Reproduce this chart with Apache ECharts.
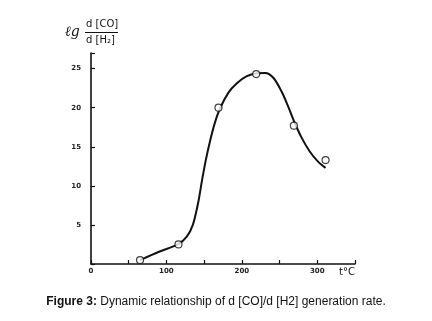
<!DOCTYPE html>
<html>
<head>
<meta charset="utf-8">
<script src="https://cdn.jsdelivr.net/npm/echarts@6/dist/echarts.min.js"></script>
<style>
html,body{margin:0;padding:0;background:#fff;}
#chart{width:432px;height:321px;}
</style>
</head>
<body>
<div id="chart"></div>
<script>
// measured points (t, lg d[CO]/d[H2])
var pointT = [65, 116, 169, 219, 269, 311];
var pointV = [0.5, 2.5, 20.0, 24.3, 17.7, 13.3];
// hand drawn curve
var curveT = [65, 91, 115, 127, 135, 142, 147, 152, 158, 164, 171, 182, 193, 206, 220, 231, 242, 253, 262, 269, 279, 290, 301, 311];
var curveV = [0.5, 1.6, 2.5, 3.5, 5.0, 7.8, 10.6, 13.2, 15.8, 18.0, 19.9, 21.9, 23.1, 24.0, 24.4, 24.45, 23.8, 22.0, 20.0, 18.3, 16.2, 14.4, 13.1, 12.3];
var xLabels = [0, 100, 200, 300];
var yLabels = [5, 10, 15, 20, 25];

var pts = [];
for (var i = 0; i < pointT.length; i++) pts.push([pointT[i], pointV[i]]);
var crv = [];
for (i = 0; i < curveT.length; i++) crv.push([curveT[i], curveV[i]]);

var myChart = echarts.init(document.getElementById('chart'));
var option = {
  animation: false,
  grid: { left: 91, right: 77, top: 53, bottom: 57 },
  xAxis: {
    type: 'value', min: 0, max: 350, interval: 50,
    name: 't°C', nameLocation: 'end', nameGap: 0,
    nameTextStyle: { color: '#111', fontSize: 10, fontFamily: 'DejaVu Sans', align: 'right', verticalAlign: 'top', padding: [3, 0, 0, 0] },
    axisLine: { lineStyle: { color: '#111', width: 1.6 } },
    axisTick: { inside: true, length: 4, lineStyle: { color: '#111', width: 1.2 } },
    axisLabel: {
      color: '#222', fontSize: 7, fontWeight: 'bold', fontFamily: 'DejaVu Sans', margin: 4,
      formatter: function (v) { return xLabels.indexOf(v) >= 0 ? String(v) : ''; }
    },
    splitLine: { show: false }
  },
  yAxis: {
    type: 'value', min: 0, max: 27, interval: 5,
    axisLine: { show: true, lineStyle: { color: '#111', width: 1.6 } },
    axisTick: { show: true, inside: true, length: 4, lineStyle: { color: '#111', width: 1.2 } },
    axisLabel: {
      color: '#222', fontSize: 7, fontWeight: 'bold', fontFamily: 'DejaVu Sans', margin: 10,
      formatter: function (v) { return yLabels.indexOf(v) >= 0 ? String(v) : ''; }
    },
    splitLine: { show: false }
  },
  graphic: [
    { type: 'text', left: 65, top: 25, style: { text: 'ℓg', font: 'italic 14px DejaVu Serif', fill: '#111' } },
    { type: 'text', left: 86, top: 19, style: { text: 'd [CO]', font: '10px DejaVu Sans', fill: '#111' } },
    { type: 'line', shape: { x1: 85, y1: 32.5, x2: 118, y2: 32.5 }, style: { stroke: '#111', lineWidth: 1.2 } },
    { type: 'text', left: 86, top: 35, style: { text: 'd [H\u2082]', font: '10px DejaVu Sans', fill: '#111' } },
    {
      type: 'text', left: 'center', top: 296,
      style: {
        text: '{b|Figure 3:} Dynamic relationship of d [CO]/d [H2] generation rate.',
        font: '12px Liberation Sans', fill: '#111',
        rich: { b: { fontWeight: 'bold', fontSize: 12, fontFamily: 'Liberation Sans', fill: '#111' } }
      }
    }
  ],
  series: [
    {
      type: 'line', data: crv, smooth: 0.3, showSymbol: false,
      lineStyle: { color: '#111', width: 2 }, z: 2
    },
    {
      type: 'scatter', data: pts, symbol: 'circle', symbolSize: 7,
      itemStyle: { color: '#fff', borderColor: '#111', borderWidth: 1.2 }, z: 3
    }
  ]
};
myChart.setOption(option);
window.addEventListener('resize', function () { myChart.resize(); });
</script>
</body>
</html>
